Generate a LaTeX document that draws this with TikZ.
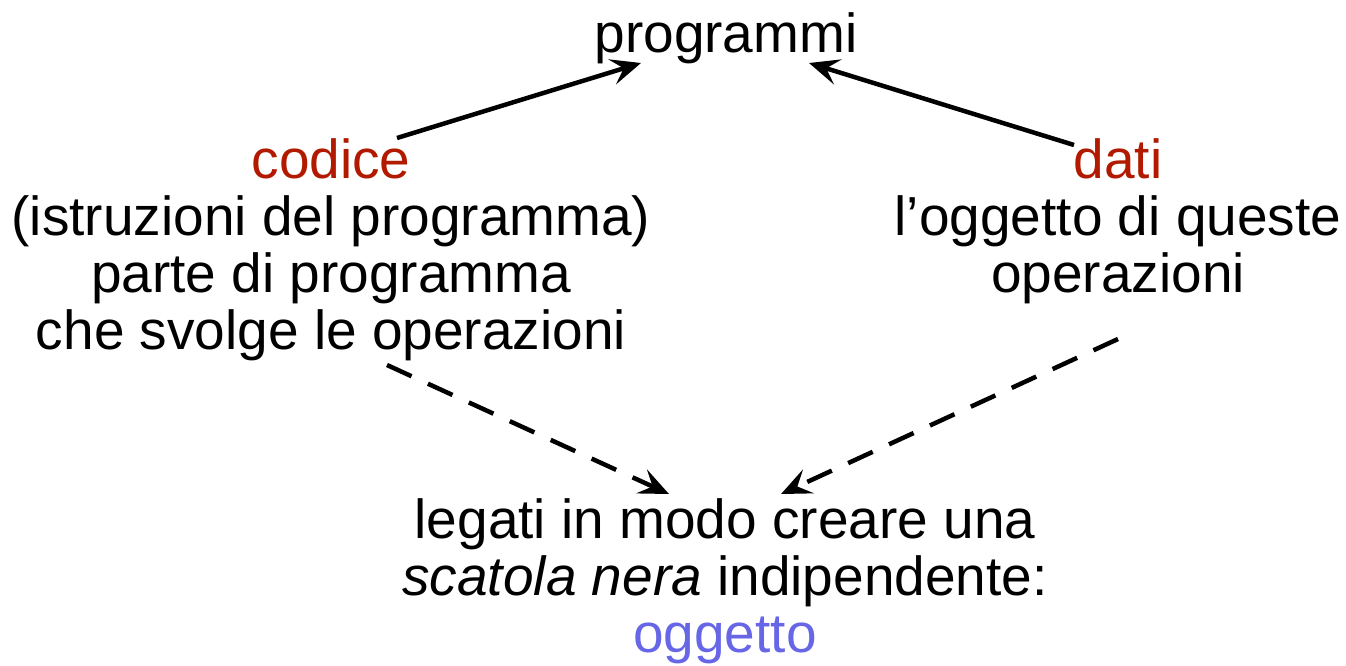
\documentclass[tikz,border=0pt]{standalone}
\usepackage{fontspec}
\setmainfont{Liberation Sans}
\usetikzlibrary{arrows.meta}
\definecolor{kred}{RGB}{178,26,0}
\definecolor{kblue}{RGB}{102,102,230}
\begin{document}
\begin{tikzpicture}[x=1pt,y=-1pt,
  >={Stealth[length=30pt,width=26pt,inset=12pt]},
  txt/.style={anchor=base,inner sep=0pt,font=\fontsize{55}{57}\selectfont},
  conn/.style={line width=4.5pt,->},
  dconn/.style={conn,dash pattern=on 27pt off 18pt}]
\useasboundingbox (0,0) rectangle (1346,665);
\node[txt] (prog) at (726,52) {programmi};
\node[txt,text=kred] (codice) at (331,178) {codice};
\node[txt] (c1) at (331,235) {(istruzioni del programma)};
\node[txt] (c2) at (331,292) {parte di programma};
\node[txt] (c3) at (331,349) {che svolge le operazioni};
\node[txt,text=kred] (dati) at (1118,178) {dati};
\node[txt] (d1) at (1118,235) {l’oggetto di queste};
\node[txt] (d2) at (1118,292) {operazioni};
\node[txt] (b1) at (725,538) {legati in modo creare una};
\node[txt] (b2) at (725,595) {\textit{scatola nera} indipendente:};
\node[txt,text=kblue] (ogg) at (725,652) {oggetto};
\coordinate (cs) at (397,138);
\coordinate (ct) at (641,63);
\coordinate (ds) at (1074,145);
\coordinate (dt) at (809,63);
\coordinate (c3s) at (387,365);
\coordinate (bl) at (669,494);
\coordinate (d2s) at (1118,339);
\coordinate (br) at (781,494);
\draw[conn] (cs) -- (ct);
\draw[conn] (ds) -- (dt);
\draw[dconn] (c3s) -- (bl);
\draw[dconn] (d2s) -- (br);
\end{tikzpicture}
\end{document}
